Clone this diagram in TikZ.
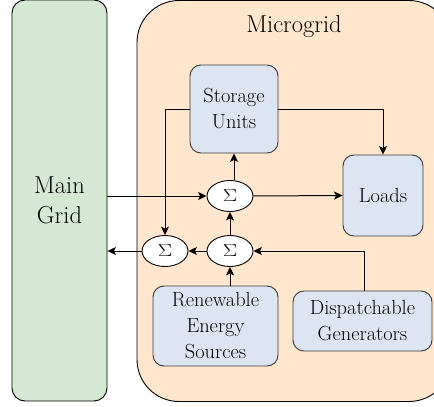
\documentclass[tikz,border=0pt]{standalone}
\usepackage{graphicx}
\usetikzlibrary{arrows.meta,shapes.geometric}
\definecolor{gridgreen}{HTML}{D5E8D4}
\definecolor{microorange}{HTML}{FFE6CC}
\definecolor{boxblue}{HTML}{DEE5F2}
\definecolor{boxline}{HTML}{3A3A3A}
\newcommand{\sumsign}{\scalebox{1.25}[1]{\fontsize{19}{19}\selectfont$\Sigma$}}
\tikzset{
  region/.style={draw=black, line width=0.9pt},
  unitbox/.style={draw=boxline, fill=boxblue, rounded corners=11pt, line width=0.9pt, align=center, inner sep=0pt,
    font=\fontsize{20.4}{26}\selectfont},
  sumnode/.style={ellipse, draw=black, fill=white, line width=0.9pt, minimum width=46pt, minimum height=31pt, inner sep=0pt},
  flow/.style={line width=1pt, -{Stealth[length=8.5pt,width=8pt,inset=2pt]}},
}
\begin{document}
\begin{tikzpicture}[x=1pt,y=-1pt]
\useasboundingbox (0,0) rectangle (434,407);
\clip (0,0) rectangle (434,407);
% regions
\node[region, fill=gridgreen, rounded corners=13pt, minimum width=95pt, minimum height=401pt, inner sep=0pt,
  align=center, font=\fontsize{24.5}{30}\selectfont] (main) at (59.5,200.5) {Main\\Grid};
\node[region, fill=microorange, rounded corners=42pt, minimum width=314pt, minimum height=401pt, inner sep=0pt] (micro) at (294,201) {};
\node[font=\fontsize{24.5}{30}\selectfont] (microlabel) at (294,26) {Microgrid};
% boxes
\node[unitbox, minimum width=88pt, minimum height=88pt] (storage) at (234,109) {Storage\\Units};
\node[unitbox, minimum width=80pt, minimum height=81pt] (loads) at (383,195.5) {Loads};
\node[unitbox, minimum width=125pt, minimum height=80pt] (renew) at (215.5,326) {Renewable\\Energy\\Sources};
\node[unitbox, minimum width=139pt, minimum height=60pt] (disp) at (362.5,321) {Dispatchable\\Generators};
% sums
\node[sumnode] (sumA) at (230,196) {\sumsign};
\node[sumnode] (sumB) at (230,251) {\sumsign};
\node[sumnode] (sumC) at (165,251) {\sumsign};
% connectors
\draw[flow] (main.east |- sumA) -- (sumA.west);
\draw[flow] (sumA.north -| storage.south) -- (storage.south);
\draw[flow] (sumA.east) -- (loads.west);
\draw[flow] (storage.west) -| (sumC.north);
\draw[flow] (storage.east) -| (loads.north);
\draw[flow] (sumB.north) -- (sumA.south);
\draw[flow] (sumB.west) -- (sumC.east);
\draw[flow] (sumC.west) -- (main.east |- sumC);
\draw[flow] (sumB.south |- renew.north) -- (sumB.south);
\draw[flow] ([xshift=1.5pt]disp.north) |- (sumB.east);
\end{tikzpicture}
\end{document}
